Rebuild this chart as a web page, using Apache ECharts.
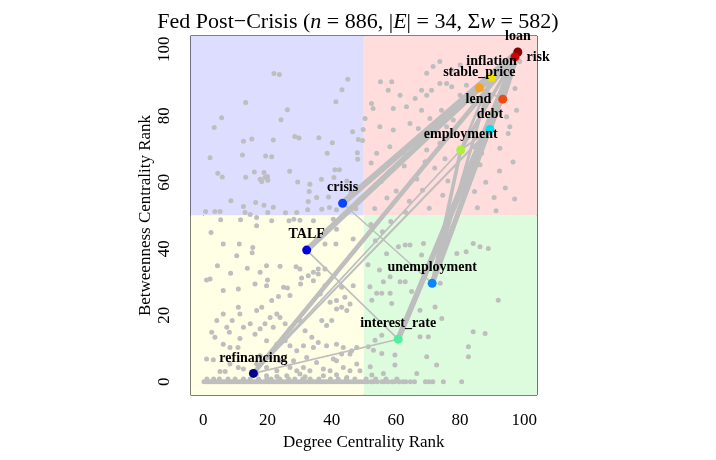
<!DOCTYPE html>
<html>
<head>
<meta charset="utf-8">
<script src="https://cdn.jsdelivr.net/npm/echarts@6/dist/echarts.min.js"></script>
<style>
  html, body { margin: 0; padding: 0; background: #fff; }
  #chart { width: 716px; height: 460px; }
</style>
</head>
<body>
<div id="chart"></div>
<script>
// highlighted terms: degree rank, betweenness rank
const nodeNames = ['loan', 'risk', 'inflation', 'stable_price', 'lend', 'debt', 'employment',
  'crisis', 'TALF', 'unemployment', 'interest_rate', 'refinancing'];
const nodeDegree = [98.0, 97.1, 89.8, 86.0, 93.3, 89.3, 80.2, 43.4, 32.2, 71.3, 60.7, 15.6];
const nodeBetween = [99.2, 97.7, 91.6, 88.4, 85.0, 75.9, 69.7, 53.7, 39.6, 29.6, 12.8, 2.5];

// edges between highlighted terms (|E| = 34, sum of weights = 582)
const edgeSource = ['loan', 'loan', 'risk', 'loan', 'risk', 'loan', 'inflation', 'inflation', 'inflation',
  'employment', 'loan', 'risk', 'crisis', 'crisis', 'TALF', 'TALF', 'TALF', 'crisis', 'TALF',
  'refinancing', 'refinancing', 'refinancing', 'refinancing', 'interest_rate', 'interest_rate',
  'interest_rate', 'unemployment', 'unemployment', 'unemployment', 'debt', 'inflation', 'employment',
  'refinancing', 'lend'];
const edgeTarget = ['risk', 'lend', 'lend', 'debt', 'debt', 'stable_price', 'stable_price', 'employment',
  'unemployment', 'unemployment', 'employment', 'employment', 'loan', 'risk', 'loan', 'risk', 'inflation',
  'unemployment', 'interest_rate', 'loan', 'risk', 'debt', 'interest_rate', 'loan', 'risk', 'lend',
  'loan', 'risk', 'debt', 'lend', 'loan', 'debt', 'employment', 'stable_price'];
const edgeWeight = [50, 30, 22, 28, 20, 14, 16, 12, 14, 18, 16, 12, 34, 18, 32, 16, 12, 4, 5,
  24, 12, 8, 5, 30, 18, 10, 28, 16, 12, 10, 14, 8, 6, 8];

// all other terms [degree rank, betweenness rank]
const otherUpperLeft = [
  [22.0, 92.7], [23.7, 92.4], [45.0, 91.0], [43.2, 87.8], [41.3, 84.2], [13.2, 84.0], [26.2, 81.8],
  [5.7, 79.4], [24.2, 78.8], [3.4, 76.5], [46.5, 75.2], [49.8, 75.9], [12.5, 72.3], [15.1, 73.0],
  [21.8, 72.7], [28.5, 73.8], [29.8, 73.3], [36.0, 73.4], [40.2, 71.9], [48.3, 72.9], [49.6, 72.6],
  [12.2, 68.2], [19.4, 67.9], [21.3, 67.7], [2.1, 67.4], [38.6, 68.7], [48.0, 68.9], [48.1, 66.9],
  [26.9, 63.3], [4.5, 62.7], [5.9, 61.6], [15.9, 63.1], [18.9, 62.9], [20.0, 61.7], [17.7, 60.9],
  [18.2, 60.2], [20.1, 60.6], [19.2, 61.4], [13.2, 61.5], [29.4, 60.1], [33.2, 59.4], [33.0, 57.2],
  [36.8, 60.9], [41.0, 63.8], [42.4, 63.8], [40.7, 61.4], [44.7, 60.4], [39.0, 55.6], [35.3, 55.4],
  [32.7, 54.2], [32.5, 51.7], [8.6, 54.4], [0.7, 51.2], [3.6, 51.2], [5.2, 51.2], [12.5, 52.7],
  [16.3, 53.9], [18.9, 53.1], [21.8, 52.5], [25.6, 50.8], [29.1, 50.9], [36.9, 51.9], [39.3, 52.4],
  [41.5, 51.7], [13.0, 50.9], [14.6, 50.3], [20.1, 50.9], [46.0, 56.8], [47.5, 52.0], [44.2, 50.6]
];
const otherLowerLeft = [
  [5.4, 48.7], [11.6, 48.7], [16.6, 49.4], [21.3, 48.4], [26.7, 48.4], [28.2, 48.9], [30.1, 48.6],
  [34.3, 48.4], [40.5, 48.9], [2.4, 44.9], [16.6, 46.9], [41.5, 45.9], [46.7, 42.9], [41.3, 41.4],
  [37.9, 41.4], [6.2, 41.4], [11.2, 41.4], [15.4, 40.4], [10.4, 37.9], [15.2, 38.8], [4.4, 34.9],
  [8.5, 32.6], [13.7, 34.1], [17.7, 32.9], [19.7, 34.9], [23.9, 34.7], [28.9, 34.6], [30.1, 33.9],
  [32.7, 31.9], [34.3, 32.9], [35.8, 33.9], [37.9, 33.9], [2.1, 30.9], [1.0, 30.6], [6.2, 27.4],
  [10.9, 27.9], [16.1, 29.4], [20.0, 30.6], [19.7, 28.9], [25.0, 28.4], [26.2, 28.2], [30.6, 31.2],
  [30.3, 29.4], [34.3, 30.4], [35.8, 32.4], [27.0, 25.9], [23.4, 25.6], [21.3, 24.4], [18.2, 22.4],
  [16.6, 21.4], [10.9, 22.4], [11.4, 20.4], [9.0, 18.4], [6.2, 20.4], [4.2, 18.4], [2.6, 14.9],
  [3.6, 13.4], [7.3, 16.4], [8.1, 14.9], [12.5, 16.4], [14.6, 17.4], [16.1, 14.3], [17.7, 15.9],
  [19.2, 17.4], [20.8, 19.3], [22.9, 20.4], [23.9, 19.3], [21.8, 16.4], [25.5, 17.4], [27.0, 15.9],
  [30.1, 18.4], [31.7, 15.3], [33.8, 13.4], [36.9, 18.4], [38.4, 16.9], [40.0, 18.4], [41.5, 21.9],
  [43.1, 22.4], [44.7, 21.4], [44.1, 25.4], [41.5, 24.4], [39.5, 23.9], [45.7, 23.4], [37.9, 28.9],
  [36.4, 26.4], [43.1, 28.4], [46.7, 28.9], [34.3, 10.3], [35.8, 11.8], [38.4, 10.8], [41.5, 11.3],
  [43.6, 10.3], [46.2, 9.3], [47.8, 10.3], [31.2, 10.8], [29.1, 9.3], [27.0, 10.8], [25.5, 12.3],
  [22.9, 11.3], [19.7, 12.3], [11.4, 13.0], [10.8, 10.3], [8.3, 10.3], [6.2, 11.3], [1.0, 6.8],
  [3.1, 6.6], [8.3, 5.3], [10.9, 4.3], [12.5, 3.8], [16.6, 5.3], [19.7, 4.3], [22.9, 3.3], [27.0, 4.3],
  [29.1, 3.3], [31.2, 4.3], [33.2, 3.3], [35.3, 5.8], [37.4, 3.8], [39.5, 3.3], [41.5, 6.3], [43.6, 4.3],
  [45.7, 3.3], [47.8, 5.3], [48.8, 3.3], [45.7, 8.3], [43.1, 8.3], [40.5, 6.8], [32.2, 7.3], [28.1, 6.3],
  [23.9, 6.3], [20.8, 7.3], [17.7, 7.8], [5.2, 3.1], [6.8, 3.1], [16.6, 2.3], [19.7, 1.8], [22.9, 1.6],
  [26.0, 1.8], [30.1, 2.3], [31.7, 1.5], [37.4, 1.8], [41.5, 2.1], [44.7, 1.3]
];
const otherUpperRight = [
  [55.2, 90.2], [58.7, 90.2], [57.6, 87.7], [61.3, 86.2], [66.0, 85.2], [68.0, 87.7], [69.6, 86.2],
  [71.1, 87.7], [73.7, 89.7], [75.8, 89.7], [77.4, 88.7], [52.4, 83.7], [52.9, 82.2], [59.2, 82.2],
  [63.3, 82.7], [68.0, 81.7], [70.6, 79.2], [74.2, 81.7], [78.4, 82.2], [80.0, 86.2], [80.5, 83.2],
  [50.4, 79.2], [55.0, 76.7], [59.2, 75.7], [64.4, 77.7], [67.0, 76.2], [75.8, 76.7], [77.9, 78.7],
  [94.5, 79.7], [95.5, 76.7], [97.6, 81.7], [54.0, 68.7], [58.1, 70.7], [62.3, 68.7], [65.4, 71.7],
  [69.6, 69.7], [73.7, 71.7], [84.1, 70.7], [86.7, 68.7], [92.4, 70.2], [95.0, 74.7], [73.7, 96.3],
  [71.6, 94.8], [69.6, 92.8], [77.4, 93.8], [80.0, 95.3], [93.5, 85.7], [97.1, 88.2], [82.0, 89.2],
  [83.6, 84.2], [98.6, 96.3], [52.3, 65.8], [55.4, 60.2], [57.9, 63.1], [60.1, 57.4], [62.6, 64.9],
  [64.2, 54.3], [66.5, 61.0], [68.3, 57.6], [70.4, 52.2], [72.1, 64.3], [74.6, 56.1], [76.2, 60.4],
  [78.1, 53.2], [82.3, 62.1], [84.5, 57.2], [86.2, 65.3], [88.0, 60.0], [90.6, 55.4], [92.3, 63.4],
  [94.1, 58.3], [96.5, 66.1], [53.4, 52.1], [57.2, 55.3], [63.0, 51.0], [69.1, 66.2], [75.3, 67.1],
  [85.4, 52.3], [91.2, 51.4], [97.0, 55.0]
];
const otherLowerRight = [
  [60.8, 40.6], [62.9, 41.1], [64.4, 41.1], [68.0, 38.1], [68.6, 41.6], [84.1, 41.6], [86.2, 40.6],
  [88.8, 40.1], [79.0, 38.6], [81.9, 39.1], [56.1, 30.1], [58.2, 31.6], [61.3, 30.1], [62.9, 30.1],
  [64.9, 27.1], [73.8, 29.6], [51.9, 28.6], [54.0, 26.6], [55.6, 26.6], [58.2, 26.6], [52.5, 24.5],
  [58.7, 23.5], [67.5, 21.5], [72.2, 22.5], [74.3, 19.0], [91.9, 24.5], [84.1, 15.0], [87.8, 14.5],
  [82.6, 10.5], [82.6, 7.5], [70.1, 13.5], [67.5, 13.5], [55.6, 14.0], [53.5, 12.5], [51.4, 10.5],
  [53.0, 9.5], [55.6, 8.5], [59.7, 8.0], [59.7, 5.0], [52.0, 4.5], [52.5, 2.0], [56.1, 2.5], [66.5, 2.5],
  [69.6, 7.5], [72.7, 5.0], [52.2, 47.3], [55.8, 45.1], [58.4, 48.2], [53.6, 42.4], [57.1, 38.5],
  [51.3, 35.2], [54.9, 33.6]
];
// terms with zero betweenness (rank ~0)
const zeroRowX = [0.2, 0.9, 1.5, 2.3, 2.8, 3.6, 4.1, 4.9, 5.6, 6.2, 6.9, 7.4, 8.2, 8.8, 9.5, 10.1, 10.8,
  11.6, 12.2, 12.9, 13.4, 14.1, 14.9, 15.5, 16.2, 16.8, 17.6, 18.1, 18.9, 19.5, 20.3, 20.8, 21.6, 22.2,
  22.9, 23.5, 24.3, 24.8, 25.6, 26.2, 26.9, 27.6, 28.2, 28.9, 29.5, 30.3, 30.8, 31.6, 32.3, 32.9, 33.6,
  34.2, 34.9, 35.7, 36.3, 37.1, 37.8, 38.5, 39.2, 40.1, 40.8, 41.6, 42.5, 43.3, 44.2, 45.0, 45.9, 46.8,
  47.6, 48.5, 49.3, 50.2, 51.1, 52.3, 53.0, 54.2, 55.6, 56.3, 57.5, 58.8, 59.6, 61.0, 62.2, 63.1, 64.5,
  65.8, 69.2, 70.3, 71.5, 74.8, 80.5];
const lowRowX = [1.1, 3.2, 5.0, 7.7, 9.9, 12.5, 14.6, 17.2, 19.8, 21.1, 23.8, 26.6, 28.5, 31.0, 33.3,
  36.0, 39.6, 42.0, 44.6, 47.2, 50.7, 53.7, 56.9, 60.3];

const nodeColors = ['#8B0000', '#D20000', '#EEE000', '#F8A020', '#F04A10', '#00E0F0', '#ADF03C',
  '#0A44FF', '#0000DD', '#0A84FF', '#50EEA0', '#00008B'];
const labelPos = { lend: 'left', risk: 'right' };

const serif = '"Liberation Serif", "Times New Roman", serif';
const chart = echarts.init(document.getElementById('chart'));

const idx = {};
nodeNames.forEach((n, i) => { idx[n] = i; });

const others = [].concat(otherUpperLeft, otherLowerLeft, otherUpperRight, otherLowerRight,
  zeroRowX.map(x => [x, 0]), lowRowX.map(x => [x, 0.8]));

const edges = edgeSource.map((s, i) => {
  const a = idx[s], b = idx[edgeTarget[i]];
  return {
    coords: [[nodeDegree[a], nodeBetween[a]], [nodeDegree[b], nodeBetween[b]]],
    lineStyle: { width: 0.8 + edgeWeight[i] * 0.16 }
  };
});

const nodes = nodeNames.map((n, i) => ({
  name: n,
  value: [nodeDegree[i], nodeBetween[i]],
  itemStyle: { color: nodeColors[i] },
  label: { position: labelPos[n] || 'top', distance: labelPos[n] ? 7 : 4 }
}));

const option = {
  animation: false,
  title: {
    left: 'center',
    top: 6,
    text: '{a|Fed Post\u2212Crisis (}{i|n}{a| = 886, |}{i|E}{a|| = 34, \u03A3}{i|w}{a| = 582)}',
    textStyle: {
      fontWeight: 'normal',
      rich: {
        a: { fontFamily: serif, fontSize: 22, fontWeight: 'normal', color: '#000' },
        i: { fontFamily: serif, fontSize: 22, fontWeight: 'normal', color: '#000', fontStyle: 'italic' }
      }
    }
  },
  grid: [
    { left: 190.5, top: 36, width: 346.6, height: 359, show: true, borderColor: '#000', borderWidth: 1,
      backgroundColor: 'transparent' },
    { left: 203.3, top: 49.3, width: 321, height: 332.4 }
  ],
  xAxis: [
    { gridIndex: 0, type: 'value', min: -4, max: 104, show: false },
    {
      gridIndex: 1, type: 'value', min: 0, max: 100, interval: 20, position: 'bottom', offset: 13.3,
      name: 'Degree Centrality Rank', nameLocation: 'middle', nameGap: 38,
      nameTextStyle: { fontFamily: serif, fontSize: 17, color: '#000' },
      axisLine: { show: true, lineStyle: { color: '#000', width: 1 } },
      axisTick: { show: true, length: 9, lineStyle: { color: '#000' } },
      axisLabel: { fontFamily: serif, fontSize: 17, color: '#000', margin: 17 },
      splitLine: { show: false }
    }
  ],
  yAxis: [
    { gridIndex: 0, type: 'value', min: -4, max: 104, show: false },
    {
      gridIndex: 1, type: 'value', min: 0, max: 100, interval: 20, position: 'left', offset: 12.8,
      name: 'Betweenness Centrality Rank', nameLocation: 'middle', nameGap: 36,
      nameTextStyle: { fontFamily: serif, fontSize: 17, color: '#000' },
      axisLine: { show: true, lineStyle: { color: '#000', width: 1 } },
      axisTick: { show: true, length: 9, lineStyle: { color: '#000' } },
      axisLabel: { fontFamily: serif, fontSize: 17, color: '#000', margin: 17, rotate: 90 },
      splitLine: { show: false }
    }
  ],
  series: [
    {
      type: 'scatter', xAxisIndex: 0, yAxisIndex: 0, data: [], z: 1, silent: true,
      markArea: {
        silent: true,
        data: [
          [{ coord: [-4, 50], itemStyle: { color: '#DDDDFF' } }, { coord: [50, 104] }],
          [{ coord: [50, 50], itemStyle: { color: '#FFDDDD' } }, { coord: [104, 104] }],
          [{ coord: [-4, -4], itemStyle: { color: '#FFFFE6' } }, { coord: [50, 50] }],
          [{ coord: [50, -4], itemStyle: { color: '#DDFCDD' } }, { coord: [104, 50] }]
        ]
      }
    },
    {
      type: 'scatter', xAxisIndex: 0, yAxisIndex: 0, z: 2, silent: true,
      symbolSize: 5, itemStyle: { color: '#BEBEBE', opacity: 1 },
      data: others
    },
    {
      type: 'lines', coordinateSystem: 'cartesian2d', xAxisIndex: 0, yAxisIndex: 0, z: 3, silent: true,
      polyline: false,
      lineStyle: { color: '#BEBEBE', opacity: 1, cap: 'round' },
      data: edges
    },
    {
      type: 'scatter', xAxisIndex: 0, yAxisIndex: 0, z: 4, silent: true,
      symbolSize: 9, itemStyle: { opacity: 1 },
      label: {
        show: true, formatter: '{b}', fontFamily: serif, fontWeight: 'bold', fontSize: 14, color: '#000'
      },
      data: nodes
    }
  ]
};

chart.setOption(option);
window.addEventListener('resize', () => chart.resize());
</script>
</body>
</html>
